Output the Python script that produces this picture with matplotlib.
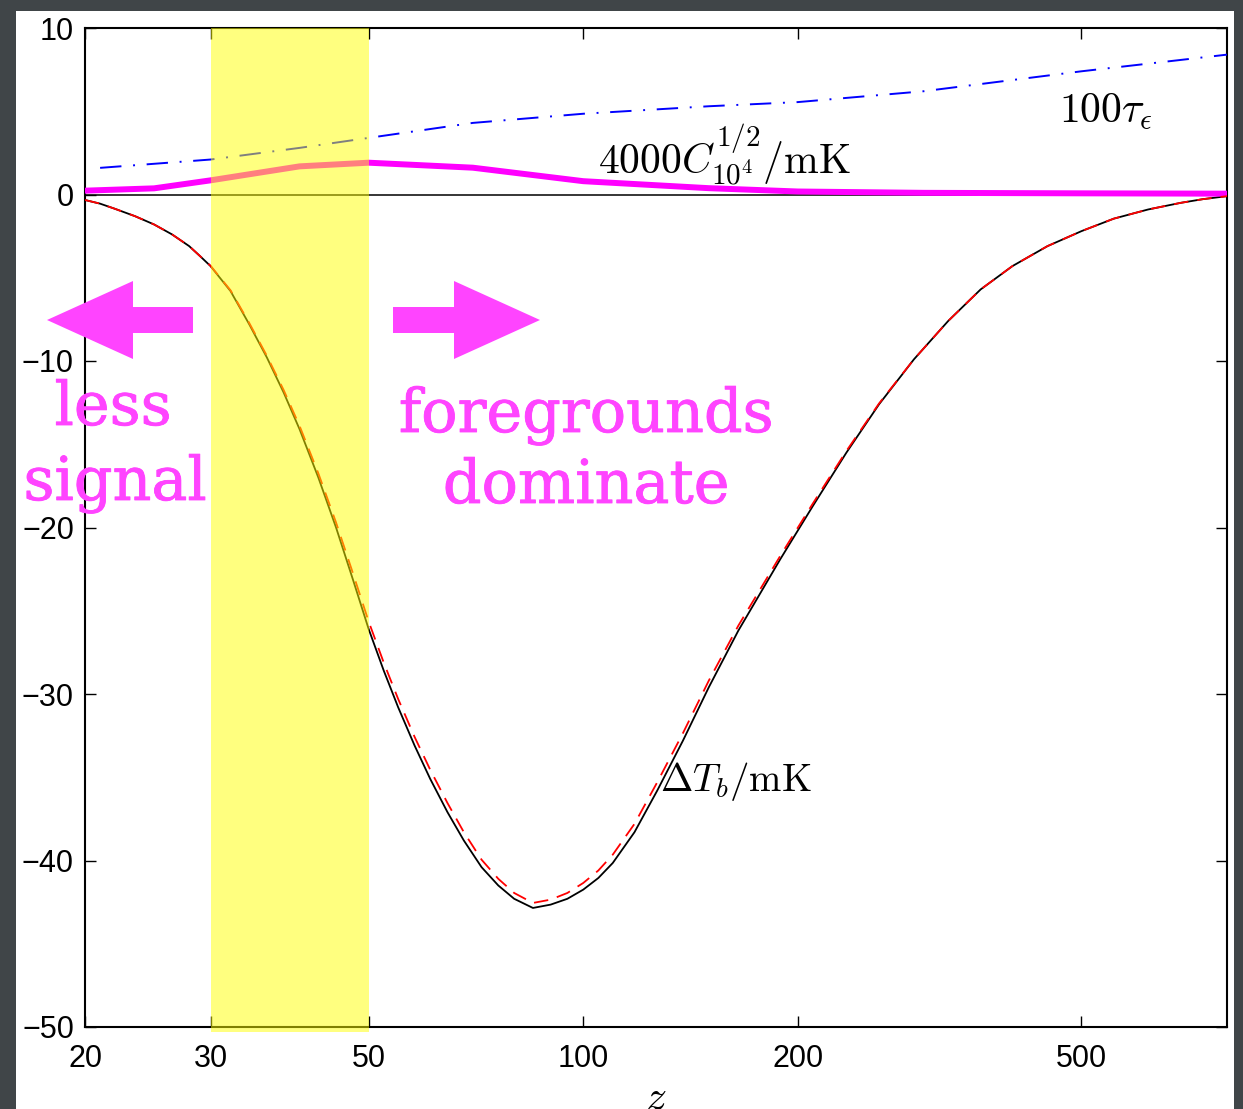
import matplotlib.pyplot as plt
import matplotlib.patheffects as pe
from matplotlib.patches import Rectangle, FancyArrow
from matplotlib.ticker import FixedLocator, FixedFormatter, NullLocator

plt.rcParams['mathtext.fontset'] = 'cm'
plt.rcParams['font.family'] = ['Liberation Sans', 'DejaVu Sans']

# 21cm brightness temperature vs redshift
z_tb = [20, 21, 22, 23.5, 25, 26.5, 28, 29, 30, 32, 34, 36, 38, 40, 42.5, 45,
        47.5, 50, 52.5, 55, 58, 61, 64.5, 68, 72, 76, 80, 85, 90, 95, 100,
        105, 110, 118, 127, 138, 150, 165, 189, 210, 234, 260, 291, 325, 361,
        400, 448, 500, 555, 620, 689, 740, 800]
tb_full = [-0.33, -0.55, -0.85, -1.3, -1.8, -2.4, -3.1, -3.7, -4.3, -5.8, -7.8,
           -9.8, -11.9, -14.1, -17.0, -20.0, -23.1, -26.1, -28.6, -30.8, -33.1,
           -35.1, -37.1, -38.8, -40.4, -41.5, -42.3, -42.85, -42.65, -42.3,
           -41.75, -41.05, -40.15, -38.3, -35.8, -32.8, -29.6, -26.2, -21.9,
           -18.7, -15.5, -12.6, -9.9, -7.6, -5.7, -4.3, -3.1, -2.2, -1.45,
           -0.9, -0.5, -0.28, -0.1]
tb_approx = [-0.33, -0.55, -0.85, -1.3, -1.8, -2.4, -3.1, -3.7, -4.28, -5.75,
             -7.72, -9.7, -11.75, -13.9, -16.75, -19.7, -22.72, -25.65, -28.12,
             -30.3, -32.58, -34.55, -36.55, -38.3, -39.95, -41.1, -41.95,
             -42.55, -42.35, -41.95, -41.35, -40.6, -39.65, -37.8, -35.3,
             -32.35, -29.2, -25.9, -21.7, -18.55, -15.4, -12.55, -9.9, -7.6,
             -5.7, -4.3, -3.1, -2.2, -1.45, -0.9, -0.5, -0.28, -0.1]

# angular power at l = 10^4 (scaled)
z_c = [20, 25, 30, 40, 50, 70, 100, 150, 200, 300, 500, 800]
c_1e4 = [0.23, 0.37, 0.85, 1.69, 1.91, 1.61, 0.8, 0.38, 0.18, 0.1, 0.07, 0.05]

# optical depth (x100)
z_tau = [21, 30, 40, 50, 70, 100, 150, 200, 300, 500, 800]
tau_eps = [1.6, 2.1, 2.8, 3.4, 4.3, 4.85, 5.3, 5.55, 6.2, 7.4, 8.4]

x_ticks = [20, 30, 50, 100, 200, 500]
y_ticks = [-50, -40, -30, -20, -10, 0, 10]
window = (30, 50)

W, H = 1243, 1109


def fx(px):
    return px / W


def fy(py):
    return 1 - py / H


fig = plt.figure(figsize=(W / 100, H / 100), dpi=100)
fig.patch.set_facecolor('#404548')
fig.add_artist(Rectangle((fx(16), 0), fx(1234) - fx(16), fy(11),
                         transform=fig.transFigure, facecolor='white',
                         edgecolor='none', zorder=-5))

ax = fig.add_axes([fx(85), fy(1027), fx(1227) - fx(85), fy(28) - fy(1027)])
ax.set_xscale('log')
ax.set_xlim(20, 800)
ax.set_ylim(-50, 10)

ax.axhline(0, color='black', lw=1.1, zorder=2)
ax.plot(z_tb, tb_full, color='black', lw=1.3, zorder=3)
ax.plot(z_tb, tb_approx, color='red', lw=1.3, dashes=(8, 5), zorder=4)
ax.plot(z_c, c_1e4, color='#ff00ff', lw=4.3, zorder=3)
ax.plot(z_tau, tau_eps, color='blue', lw=1.4, dashes=(11, 6, 1, 6), zorder=3)

# highlighted redshift window
ax.axvspan(window[0], window[1], ymin=-0.005, ymax=1, color='yellow',
           alpha=0.5, lw=0, zorder=10, clip_on=False)

ax.text(105, 1.17, r'$4000C_{10^4}^{1/2}/\mathrm{mK}$', fontsize=30,
        va='baseline', ha='left')
ax.text(465, 4.3, r'$100\tau_\epsilon$', fontsize=30, va='baseline', ha='left')
ax.text(128, -35.8, r'$\Delta T_b/\mathrm{mK}$', fontsize=28,
        va='baseline', ha='left')
ax.set_xlabel('$z$', fontsize=30, labelpad=4)

ax.xaxis.set_major_locator(FixedLocator(x_ticks))
ax.xaxis.set_major_formatter(FixedFormatter([str(t) for t in x_ticks]))
ax.xaxis.set_minor_locator(NullLocator())
ax.yaxis.set_major_locator(FixedLocator(y_ticks))
ax.tick_params(direction='in', length=8, width=1, labelsize=22,
               top=True, right=True, pad=12)
ax.tick_params(axis='y', pad=8)
for s in ax.spines.values():
    s.set_linewidth(1.5)

pink = '#ff44ff'
for x0, dx in [(193, 47 - 193), (393, 540 - 393)]:
    fig.add_artist(FancyArrow(fx(x0), fy(320), fx(dx), 0,
                              width=26 / H, head_width=78 / H,
                              head_length=86 / W, length_includes_head=True,
                              transform=fig.transFigure, color=pink, lw=0))

txt = dict(color=pink, family='DejaVu Serif', fontsize=43.5, ha='center',
           va='baseline',
           path_effects=[pe.withStroke(linewidth=0.6, foreground=pink)])
fig.text(fx(113), fy(425), 'less', **txt)
fig.text(fx(115), fy(500), 'signal', **txt)
fig.text(fx(586), fy(432), 'foregrounds', **txt)
fig.text(fx(586), fy(503), 'dominate', **txt)

fig.savefig('out.png', dpi=100, facecolor=fig.get_facecolor())
